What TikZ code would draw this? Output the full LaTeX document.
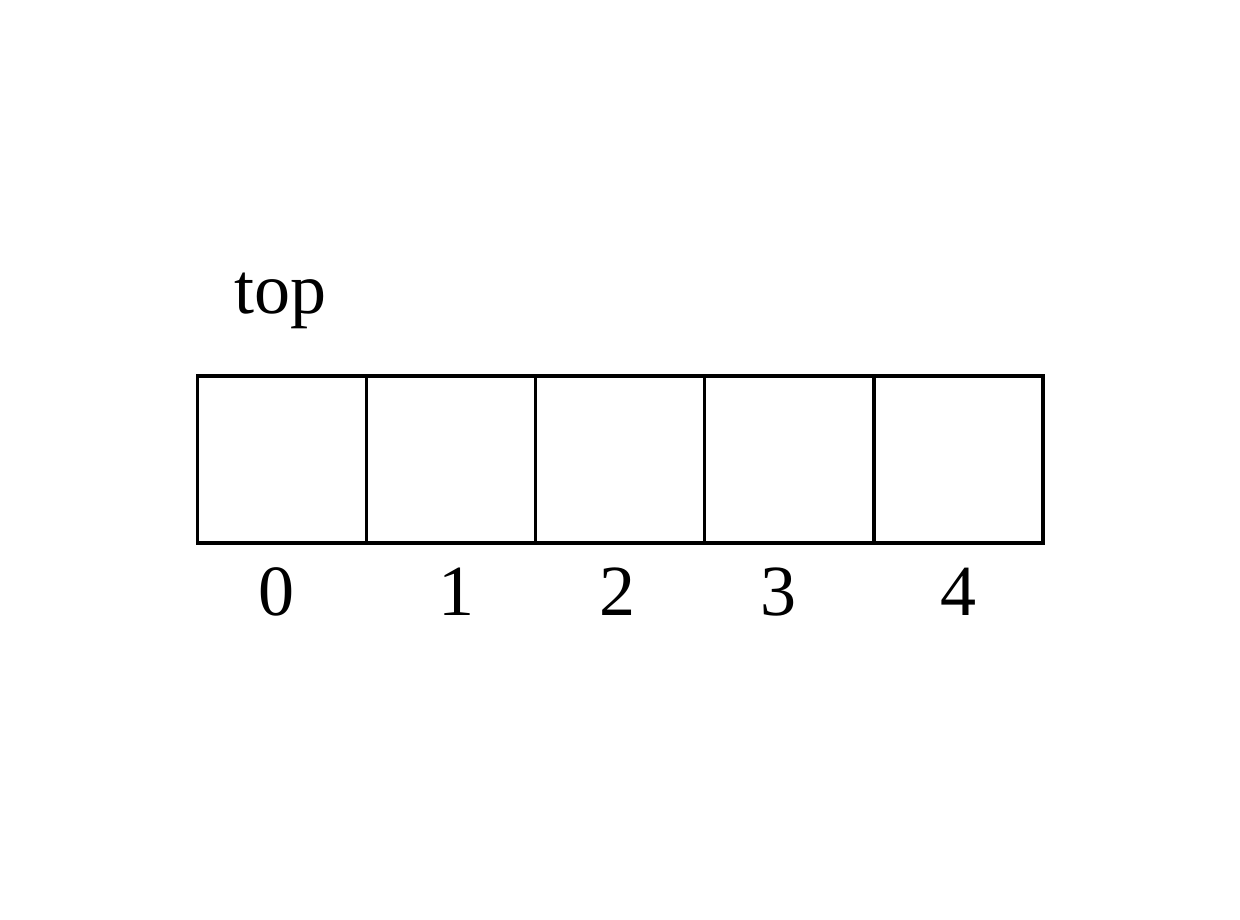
\documentclass[tikz,border=0pt]{standalone}
\usepackage{fontspec}
\setmainfont{Liberation Serif}
\begin{document}
\begin{tikzpicture}[x=1pt,y=-1pt,
  cell/.style={draw=black,line width=3.2pt,minimum width=169.1pt,minimum height=167pt,inner sep=0pt,outer sep=0pt,anchor=center},
  lbl/.style={inner sep=0pt,anchor=base,font=\fontsize{72}{86}\selectfont}]
\useasboundingbox[fill=white] (0,0) rectangle (1240,919);
\foreach \i in {0,...,4}{
  \node[cell] (c\i) at ({197.5+169.1*\i+84.55},459.5) {};
}
\node[lbl] (l0) at (276,615) {0};
\node[lbl] (l1) at (456,615) {1};
\node[lbl] (l2) at (617,615) {2};
\node[lbl] (l3) at (778,615) {3};
\node[lbl] (l4) at (958.5,615) {4};
\node[lbl] (top) at (280.5,313) {top};
\end{tikzpicture}
\end{document}
